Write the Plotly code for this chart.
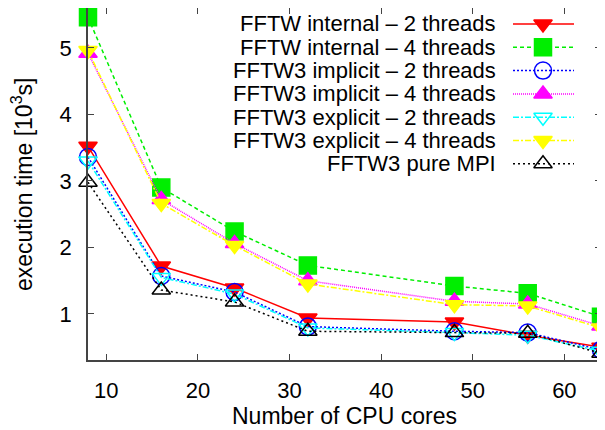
import plotly.graph_objects as go

# ---- data ----
cores = [8, 16, 24, 32, 48, 56, 64]
internal_2 = [3.52, 1.72, 1.39, 0.94, 0.88, 0.68, 0.50]
internal_4 = [5.46, 2.90, 2.24, 1.73, 1.42, 1.31, 0.96]
implicit_2 = [3.36, 1.57, 1.33, 0.81, 0.74, 0.72, 0.46]
implicit_4 = [4.92, 2.72, 2.06, 1.50, 1.19, 1.15, 0.82]
explicit_2 = [3.30, 1.55, 1.30, 0.79, 0.72, 0.68, 0.44]
explicit_4 = [4.96, 2.66, 2.03, 1.45, 1.14, 1.12, 0.79]
pure_mpi = [2.98, 1.36, 1.18, 0.74, 0.72, 0.71, 0.41]

names = ["FFTW internal \u2013 2 threads", "FFTW internal \u2013 4 threads",
         "FFTW3 implicit \u2013 2 threads", "FFTW3 implicit \u2013 4 threads",
         "FFTW3 explicit \u2013 2 threads", "FFTW3 explicit \u2013 4 threads",
         "FFTW3 pure MPI"]
series = [internal_2, internal_4, implicit_2, implicit_4, explicit_2, explicit_4, pure_mpi]

x_ticks = [10, 20, 30, 40, 50, 60]
y_ticks = [1, 2, 3, 4, 5]

# ---- styles ----
styles = [
    dict(color="#ff0000", dash="solid", symbol="triangle-down", size=16),
    dict(color="#00ee00", dash="4px,3px", symbol="square", size=17),
    dict(color="#0000ff", dash="2px,2px", symbol="circle-open", size=17),
    dict(color="#ff00ff", dash="1px,1px", symbol="triangle-up", size=16),
    dict(color="#00ffff", dash="6px,2px,2px,2px", symbol="triangle-down-open", size=16),
    dict(color="#ffff00", dash="6px,2px,2px,2px", symbol="triangle-down", size=16),
    dict(color="#000000", dash="2px,3px", symbol="triangle-up-open", size=16),
]

FONT = "Liberation Sans, Arial, sans-serif"
OFF = 8  # page body margin offset
# plot area in page pixels: left 88, right 601, top 8, bottom 360
W, H = 605 - OFF, 430 - OFF
L, R, T = 88 - OFF, 4, 0
B = H - (360 - OFF)
PW, PH = W - L - R, H - T - B

fig = go.Figure()
for name, ys, st in zip(names, series, styles):
    fig.add_trace(go.Scatter(
        x=cores, y=ys, mode="lines+markers", name=name, showlegend=False,
        line=dict(color=st["color"], width=1.5, dash=st["dash"]),
        marker=dict(symbol=st["symbol"], size=st["size"], color=st["color"],
                    line=dict(color=st["color"], width=1.5)),
        cliponaxis=False,
    ))

# ---- manual legend (text left, sample right); positions in page pixels ----
def px2paper_x(px):
    return (px - OFF - L) / PW

def px2paper_y(py):
    return (H - B - (py - OFF)) / PH

row_y = [24, 47.3, 70.6, 93.9, 117.2, 140.5, 163.8]
text_right = 498
line_x0, line_x1, mark_x = 513, 574, 543
for name, st, ry in zip(names, styles, row_y):
    yp = px2paper_y(ry)
    fig.add_annotation(x=px2paper_x(text_right), y=yp, xref="paper", yref="paper",
                       text=name, showarrow=False, xanchor="right", yanchor="middle",
                       font=dict(family=FONT, size=22, color="black"))
    fig.add_trace(go.Scatter(
        x=[px2paper_x(line_x0), px2paper_x(line_x1)], y=[yp, yp], xaxis="x2", yaxis="y2",
        mode="lines", showlegend=False, hoverinfo="skip",
        line=dict(color=st["color"], width=1.5, dash=st["dash"])))
    fig.add_trace(go.Scatter(
        x=[px2paper_x(mark_x)], y=[yp], xaxis="x2", yaxis="y2",
        mode="markers", showlegend=False, hoverinfo="skip",
        marker=dict(symbol=st["symbol"], size=st["size"], color=st["color"],
                    line=dict(color=st["color"], width=1.5))))

axis_common = dict(showline=True, linecolor="#444", linewidth=1.5, mirror="ticks",
                   ticks="inside", ticklen=6, tickcolor="#444", tickwidth=1,
                   showgrid=False, zeroline=False, automargin=False,
                   tickfont=dict(family=FONT, size=22, color="black"))

fig.update_layout(
    width=W, height=H,
    margin=dict(l=L, r=R, t=T, b=B, pad=0, autoexpand=False),
    paper_bgcolor="white", plot_bgcolor="white",
    xaxis=dict(range=[8, 64], tickvals=x_ticks, ticklabelstandoff=10, **axis_common),
    yaxis=dict(range=[0.308, 5.60], tickvals=y_ticks, ticklabelstandoff=10, **axis_common),
    xaxis2=dict(range=[0, 1], overlaying="x", visible=False, fixedrange=True, automargin=False),
    yaxis2=dict(range=[0, 1], overlaying="y", visible=False, fixedrange=True, automargin=False),
    showlegend=False,
)

fig.add_annotation(x=0.5, y=px2paper_y(416), xref="paper", yref="paper",
                   text="Number of CPU cores", showarrow=False,
                   xanchor="center", yanchor="middle",
                   font=dict(family=FONT, size=23, color="black"))
fig.add_annotation(x=px2paper_x(22), y=0.5, xref="paper", yref="paper",
                   text="execution time [10<sup>3</sup>s]", showarrow=False, textangle=-90,
                   xanchor="center", yanchor="middle",
                   font=dict(family=FONT, size=23, color="black"))

fig.write_html("out.html")
